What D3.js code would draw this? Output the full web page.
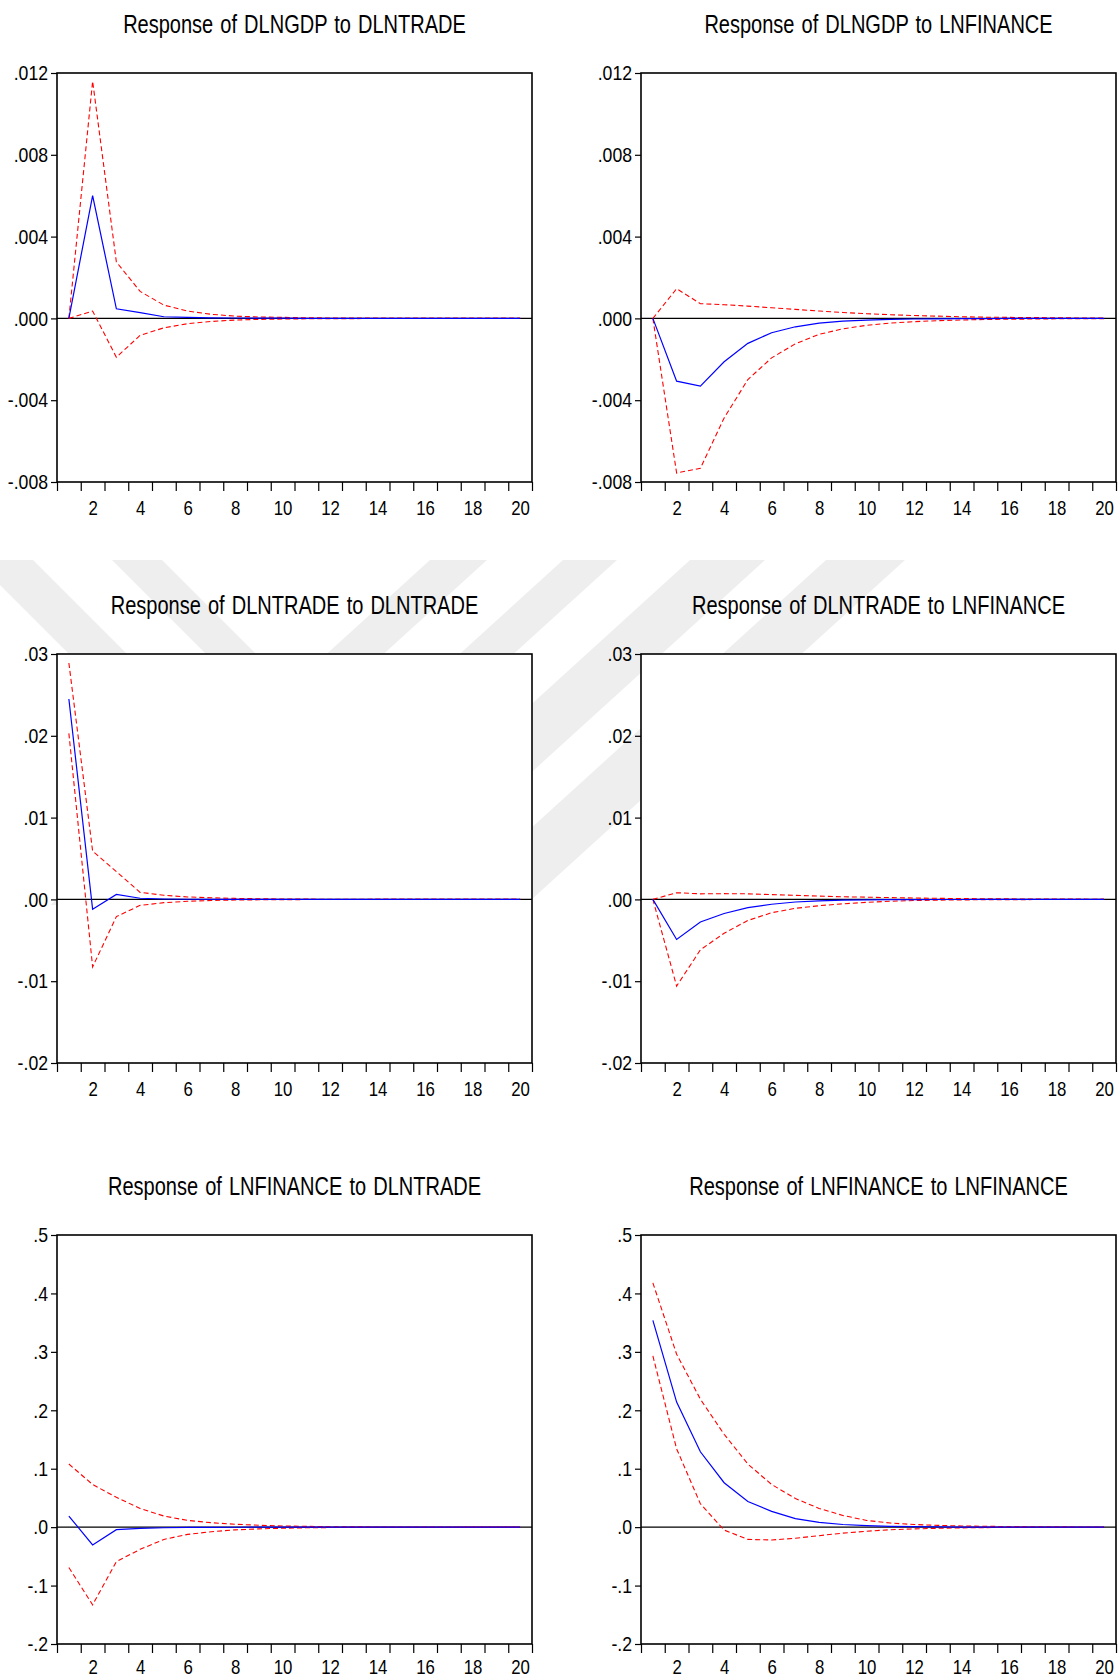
<!DOCTYPE html>
<html>
<head>
<meta charset="utf-8">
<script src="https://cdn.jsdelivr.net/npm/d3@7"></script>
<style>
  body { margin: 0; background: #fff; }
  svg text { font-family: "Liberation Sans Narrow", "Arial Narrow", "Liberation Sans", Arial, sans-serif; fill: #000; }
</style>
</head>
<body>
<svg id="chart"></svg>
<script>
// periods on the x axis
var periods = [1, 2, 3, 4, 5, 6, 7, 8, 9, 10, 11, 12, 13, 14, 15, 16, 17, 18, 19, 20];
var xLabelPeriods = [2, 4, 6, 8, 10, 12, 14, 16, 18, 20];

var titles = [
	'Response of DLNGDP to DLNTRADE',
	'Response of DLNGDP to LNFINANCE',
	'Response of DLNTRADE to DLNTRADE',
	'Response of DLNTRADE to LNFINANCE',
	'Response of LNFINANCE to DLNTRADE',
	'Response of LNFINANCE to LNFINANCE'
];

// y ticks for each row of panels
var gdpTicks = [-0.008, -0.004, 0, 0.004, 0.008, 0.012];
var gdpTickLabels = ['-.008', '-.004', '.000', '.004', '.008', '.012'];
var tradeTicks = [-0.02, -0.01, 0, 0.01, 0.02, 0.03];
var tradeTickLabels = ['-.02', '-.01', '.00', '.01', '.02', '.03'];
var finTicks = [-0.2, -0.1, 0, 0.1, 0.2, 0.3, 0.4, 0.5];
var finTickLabels = ['-.2', '-.1', '.0', '.1', '.2', '.3', '.4', '.5'];

// DLNGDP to DLNTRADE
var gdpTradeResp  = [0, 0.0060, 0.00047, 0.00028, 0.00008, 0.00005, 0.00003, 0.00002, 0.00001, 0.00001, 0, 0, 0, 0, 0, 0, 0, 0, 0, 0];
var gdpTradeUpper = [0, 0.0116, 0.00276, 0.00132, 0.00065, 0.00036, 0.0002, 0.00011, 0.00007, 0.00005, 0.00003, 0.00002, 0.00002, 0.00001, 0.00001, 0.00001, 0, 0, 0, 0];
var gdpTradeLower = [0, 0.00036, -0.0019, -0.00083, -0.00046, -0.00026, -0.00015, -0.00008, -0.00005, -0.00003, -0.00002, -0.00001, -0.00001, 0, 0, 0, 0, 0, 0, 0];

// DLNGDP to LNFINANCE
var gdpFinResp  = [0, -0.00307, -0.00331, -0.00212, -0.00122, -0.0007, -0.00041, -0.00023, -0.00013, -0.00008, -0.00005, -0.00003, -0.00002, -0.00001, -0.00001, 0, 0, 0, 0, 0];
var gdpFinUpper = [0, 0.00145, 0.00072, 0.00067, 0.0006, 0.00052, 0.00044, 0.00036, 0.00029, 0.00023, 0.00018, 0.00014, 0.00011, 0.00008, 0.00006, 0.00005, 0.00004, 0.00003, 0.00002, 0.00002];
var gdpFinLower = [0, -0.00756, -0.00733, -0.00487, -0.00299, -0.00193, -0.00124, -0.00078, -0.00051, -0.00034, -0.00023, -0.00016, -0.00011, -0.00008, -0.00005, -0.00004, -0.00003, -0.00002, -0.00001, -0.00001];

// DLNTRADE to DLNTRADE
var tradeTradeResp  = [0.0245, -0.0012, 0.0006, 0.00014, 0.00005, 0.00002, 0.00001, 0, 0, 0, 0, 0, 0, 0, 0, 0, 0, 0, 0, 0];
var tradeTradeUpper = [0.0289, 0.0059, 0.0034, 0.00086, 0.0005, 0.0003, 0.0002, 0.00012, 0.00008, 0.00005, 0.00003, 0.00002, 0.00001, 0.00001, 0, 0, 0, 0, 0, 0];
var tradeTradeLower = [0.0203, -0.00825, -0.0021, -0.00073, -0.0004, -0.00023, -0.00013, -0.00008, -0.00005, -0.00003, -0.00002, -0.00001, -0.00001, 0, 0, 0, 0, 0, 0, 0];

// DLNTRADE to LNFINANCE
var tradeFinResp  = [0, -0.0049, -0.00277, -0.00172, -0.001, -0.00059, -0.00032, -0.00018, -0.0001, -0.00005, -0.00003, -0.00002, -0.00001, -0.00001, 0, 0, 0, 0, 0, 0];
var tradeFinUpper = [0, 0.00082, 0.00068, 0.0007, 0.00068, 0.00059, 0.0005, 0.0004, 0.00032, 0.00027, 0.00022, 0.00017, 0.00013, 0.0001, 0.00008, 0.00006, 0.00005, 0.00004, 0.00003, 0.00002];
var tradeFinLower = [0, -0.0106, -0.00617, -0.00413, -0.00258, -0.00163, -0.00109, -0.00077, -0.00054, -0.00036, -0.00023, -0.00014, -0.00009, -0.00006, -0.00004, -0.00003, -0.00002, -0.00001, -0.00001, 0];

// LNFINANCE to DLNTRADE
var finTradeResp  = [0.019, -0.0305, -0.0044, -0.002, -0.001, -0.0005, -0.0003, -0.0002, -0.0001, -0.0001, 0, 0, 0, 0, 0, 0, 0, 0, 0, 0];
var finTradeUpper = [0.108, 0.073, 0.051, 0.032, 0.019, 0.0115, 0.0076, 0.005, 0.0032, 0.002, 0.0013, 0.0008, 0.0005, 0.0003, 0.0002, 0.0001, 0.0001, 0, 0, 0];
var finTradeLower = [-0.069, -0.133, -0.059, -0.038, -0.021, -0.0124, -0.0078, -0.0047, -0.003, -0.0018, -0.0011, -0.0007, -0.0004, -0.0003, -0.0002, -0.0001, -0.0001, 0, 0, 0];

// LNFINANCE to LNFINANCE
var finFinResp  = [0.354, 0.214, 0.129, 0.076, 0.044, 0.027, 0.0146, 0.0082, 0.0045, 0.0025, 0.0014, 0.0008, 0.0004, 0.0002, 0.0001, 0.0001, 0, 0, 0, 0];
var finFinUpper = [0.418, 0.296, 0.219, 0.159, 0.108, 0.073, 0.049, 0.032, 0.02, 0.0115, 0.007, 0.0045, 0.003, 0.002, 0.0014, 0.001, 0.0007, 0.0005, 0.0003, 0.0002];
var finFinLower = [0.293, 0.134, 0.04, -0.005, -0.021, -0.022, -0.019, -0.0146, -0.0102, -0.007, -0.0044, -0.003, -0.002, -0.0012, -0.0008, -0.0005, -0.0003, -0.0002, -0.0001, -0.0001];

// svg measurements
var width = 1119,
	height = 1679,
	colLeft = [57, 641],
	rowTop = [73, 654, 1235],
	labelPad = [18, 18, 15], // last row sits right on the page edge
	plotW = 475,
	plotH = 409;

var panels = [
	{ resp: gdpTradeResp, upper: gdpTradeUpper, lower: gdpTradeLower, ticks: gdpTicks, labels: gdpTickLabels },
	{ resp: gdpFinResp, upper: gdpFinUpper, lower: gdpFinLower, ticks: gdpTicks, labels: gdpTickLabels },
	{ resp: tradeTradeResp, upper: tradeTradeUpper, lower: tradeTradeLower, ticks: tradeTicks, labels: tradeTickLabels },
	{ resp: tradeFinResp, upper: tradeFinUpper, lower: tradeFinLower, ticks: tradeTicks, labels: tradeTickLabels },
	{ resp: finTradeResp, upper: finTradeUpper, lower: finTradeLower, ticks: finTicks, labels: finTickLabels },
	{ resp: finFinResp, upper: finFinUpper, lower: finFinLower, ticks: finTicks, labels: finTickLabels }
];

// squeeze text horizontally, the original uses a narrow face
function condense(sel, k) {
	sel.each(function() {
		var n = this.getComputedTextLength();
		d3.select(this)
			.attr('textLength', n * k)
			.attr('lengthAdjust', 'spacingAndGlyphs');
	});
}

var svg = d3.select('#chart')
	.attr('width', width)
	.attr('height', height);

svg.append('rect')
	.attr('width', width)
	.attr('height', height)
	.attr('fill', '#fff');

// faint diagonal watermark behind the middle row
var wmTop = 560, wmBottom = 905;
var wmBack = [[-25, 33], [112, 162]];                           // "\" stripes
var wmFwd = [[430, 487], [563, 617], [690, 765], [826, 905]];  // "/" stripes
var wm = svg.append('g').attr('fill', '#eeeeee');
wmBack.forEach(function(b) {
	var bot = 660, d = bot - wmTop;
	wm.append('polygon').attr('points', [
		[b[0], wmTop], [b[1], wmTop], [b[1] + d, bot], [b[0] + d, bot]
	].join(' '));
});
wmFwd.forEach(function(b) {
	var d = (wmBottom - wmTop) * 1.1;
	wm.append('polygon').attr('points', [
		[b[0], wmTop], [b[1], wmTop], [b[1] - d, wmBottom], [b[0] - d, wmBottom]
	].join(' '));
});

panels.forEach(function(p, i) {
	var row = Math.floor(i / 2),
		x0 = colLeft[i % 2],
		y0 = rowTop[row];

	var xScale = d3.scaleLinear()
		.domain([0.5, 20.5])
		.range([0, plotW]);

	var yScale = d3.scaleLinear()
		.domain(d3.extent(p.ticks))
		.range([plotH, 0]);

	var g = svg.append('g')
		.attr('transform', 'translate(' + x0 + ',' + y0 + ')');

	// white plot area hides the watermark
	g.append('rect')
		.attr('width', plotW)
		.attr('height', plotH)
		.attr('fill', '#fff');

	// title, narrowed with a horizontal scale
	g.append('text')
		.attr('transform', 'translate(' + (plotW / 2) + ',-40) scale(0.77,1)')
		.style('text-anchor', 'middle')
		.style('font-size', '26px')
		.style('word-spacing', '2px')
		.text(titles[i]);

	// y axis
	var yAxis = d3.axisLeft(yScale)
		.tickValues(p.ticks)
		.tickFormat(function(d, k) { return p.labels[k]; })
		.tickSize(6)
		.tickPadding(3);
	var ya = g.append('g').call(yAxis);
	ya.select('.domain').remove();
	ya.selectAll('text')
		.style('font-size', '21px')
		.attr('fill', '#000')
		.call(condense, 0.84);
	ya.selectAll('line').attr('stroke', '#000').attr('stroke-width', 1.2);

	// x axis: marks at period boundaries, labels on even periods
	var bounds = periods.map(function(t) { return t - 0.5; }).concat([20.5]);
	var xTicks = d3.axisBottom(xScale)
		.tickValues(bounds)
		.tickFormat('')
		.tickSize(9);
	var xt = g.append('g')
		.attr('transform', 'translate(0,' + plotH + ')')
		.call(xTicks);
	xt.select('.domain').remove();
	xt.selectAll('line').attr('stroke', '#000').attr('stroke-width', 1.2);

	var xLabels = d3.axisBottom(xScale)
		.tickValues(xLabelPeriods)
		.tickFormat(d3.format('d'))
		.tickSize(0)
		.tickPadding(labelPad[row]);
	var xl = g.append('g')
		.attr('transform', 'translate(0,' + plotH + ')')
		.call(xLabels);
	xl.select('.domain').remove();
	xl.selectAll('text')
		.style('font-size', '21px')
		.attr('fill', '#000')
		.call(condense, 0.8);

	// zero line
	g.append('line')
		.attr('x1', 0)
		.attr('x2', plotW)
		.attr('y1', yScale(0))
		.attr('y2', yScale(0))
		.attr('stroke', '#000')
		.attr('stroke-width', 1.2);

	var line = d3.line()
		.x(function(d, k) { return xScale(periods[k]); })
		.y(function(d) { return yScale(d); });

	[p.upper, p.lower].forEach(function(band) {
		g.append('path')
			.attr('d', line(band))
			.attr('fill', 'none')
			.attr('stroke', '#ff0000')
			.attr('stroke-width', 1.1)
			.attr('stroke-dasharray', '5,3');
	});

	g.append('path')
		.attr('d', line(p.resp))
		.attr('fill', 'none')
		.attr('stroke', '#0000ff')
		.attr('stroke-width', 1.2);

	// frame
	g.append('rect')
		.attr('width', plotW)
		.attr('height', plotH)
		.attr('fill', 'none')
		.attr('stroke', '#000')
		.attr('stroke-width', 1.6);
});
</script>
</body>
</html>
